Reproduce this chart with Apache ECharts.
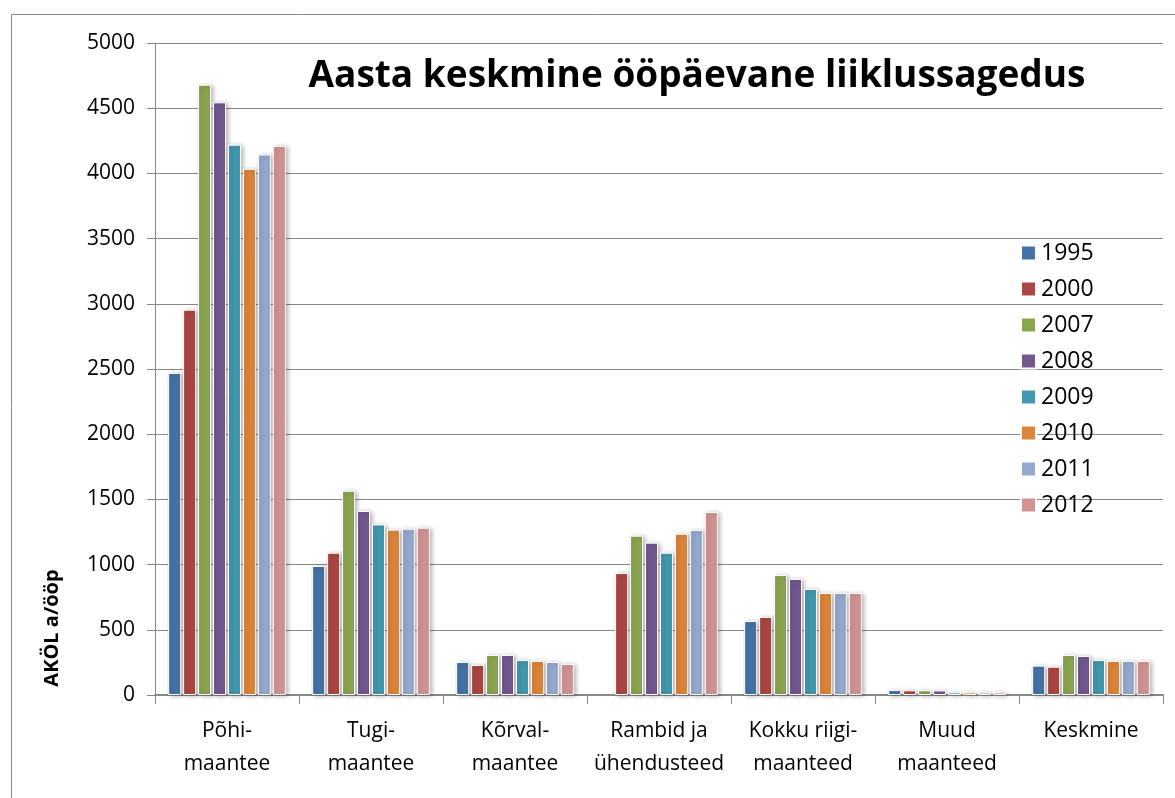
<!DOCTYPE html>
<html>
<head>
<meta charset="utf-8">
<script src="https://cdn.jsdelivr.net/npm/echarts@6/dist/echarts.min.js"></script>
<style>
html,body{margin:0;padding:0;background:#fff;}
#chart{width:1175px;height:798px;}
</style>
</head>
<body>
<div id="chart"></div>
<script>
const categories = ['Põhi-\nmaantee','Tugi-\nmaantee','Kõrval-\nmaantee','Rambid ja\nühendusteed','Kokku riigi-\nmaanteed','Muud\nmaanteed','Keskmine'];
const years = ['1995','2000','2007','2008','2009','2010','2011','2012'];
const v1995 = [2470, 990, 253, null, 567, 38, 225];
const v2000 = [2955, 1091, 230, 935, 598, 36, 217];
const v2007 = [4680, 1566, 307, 1222, 920, 36, 307];
const v2008 = [4545, 1411, 307, 1168, 890, 35, 299];
const v2009 = [4220, 1308, 268, 1091, 813, 20, 268];
const v2010 = [4035, 1268, 261, 1237, 782, 20, 261];
const v2011 = [4145, 1275, 253, 1265, 782, 20, 261];
const v2012 = [4210, 1283, 238, 1403, 782, 20, 261];
const yTicks = [0, 500, 1000, 1500, 2000, 2500, 3000, 3500, 4000, 4500, 5000];
const titleText = 'Aasta keskmine ööpäevane liiklussagedus';
const yName = 'AKÖL a/ööp';

const seriesValues = [v1995, v2000, v2007, v2008, v2009, v2010, v2011, v2012];
const colors = ['#4572A7','#AA4643','#89A54E','#71588F','#4198AF','#DB843D','#93A9CF','#D19392'];

const chart = echarts.init(document.getElementById('chart'));
const font = 'Open Sans';
chart.setOption({
  animation: false,
  color: colors,
  title: {
    text: titleText,
    left: 692, top: 53, textAlign: 'center',
    textStyle: {fontFamily: font, fontWeight: 'bold', fontSize: 37, color: '#000'}
  },
  legend: {
    orient: 'vertical',
    left: 1015, top: 236,
    itemWidth: 15, itemHeight: 15, itemGap: 12,
    icon: 'rect',
    textStyle: {fontFamily: font, fontSize: 23, color: '#000', lineHeight: 24, padding: [0,0,0,0]},
    data: years
  },
  grid: {left: 155, right: 12, top: 43, bottom: 103, containLabel: false},
  xAxis: {
    type: 'category',
    data: categories,
    axisLine: {lineStyle: {color: '#888', width: 2}},
    axisTick: {show: true, length: 9, lineStyle: {color: '#888'}},
    axisLabel: {fontFamily: font, fontSize: 21, color: '#000', lineHeight: 33, margin: 20, interval: 0}
  },
  yAxis: {
    type: 'value',
    min: yTicks[0], max: yTicks[yTicks.length-1], interval: 500,
    axisLine: {show: true, lineStyle: {color: '#888', width: 1}},
    axisTick: {show: true, length: 8, lineStyle: {color: '#888'}},
    axisLabel: {fontFamily: font, fontSize: 21, color: '#000', margin: 20, formatter: v => String(v)},
    splitLine: {lineStyle: {color: '#888', width: 1}}
  },
  graphic: [
    {type: 'rect', left: 9, top: 12, shape: {width: 1200, height: 820}, style: {fill: 'none', stroke: '#888', lineWidth: 1}, z: -1},
    {type: 'text', x: 52, y: 628, rotation: Math.PI/2,
     style: {text: yName, fontFamily: font, fontWeight: 'bold', fontSize: 20, fill: '#000', align: 'center', verticalAlign: 'middle'}}
  ],
  series: seriesValues.map((vals, i) => ({
    name: years[i],
    type: 'bar',
    data: vals,
    barWidth: 13,
    barGap: '15%',
    itemStyle: {
      borderColor: '#fff', borderWidth: 1,
      shadowColor: 'rgba(0,0,0,0.3)', shadowBlur: 5, shadowOffsetX: 2, shadowOffsetY: 1
    }
  }))
});
</script>
</body>
</html>
